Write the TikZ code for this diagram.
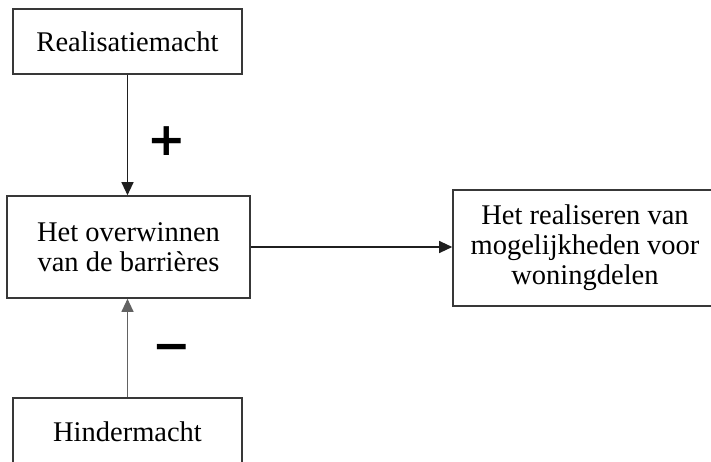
\documentclass[tikz,border=0pt]{standalone}
\usepackage{fontspec}
\setmainfont{Liberation Serif}
\newfontfamily\tekenfont{DejaVu Sans}
\usetikzlibrary{arrows.meta}
\definecolor{randgrijs}{gray}{0.22}
\definecolor{pijlgrijs}{gray}{0.12}
\tikzset{
  blok/.style={draw=randgrijs,line width=1.6pt,align=center,inner sep=0pt,
    font=\fontsize{28.5}{30}\selectfont},
  pijl/.style={-{Triangle[width=12pt,length=13pt]},line width=1.1pt,pijlgrijs},
  teken/.style={inner sep=0pt,font=\tekenfont\bfseries\fontsize{46}{46}\selectfont},
}

\begin{document}
\begin{tikzpicture}[x=1pt,y=-1pt]
  \useasboundingbox (0,0) rectangle (711,461);
  \clip (0,0) rectangle (711,461);
  % blokken
  \node[blok,minimum width=229pt,minimum height=65pt] (realisatie) at (127.5,41.5) {Realisatiemacht};
  \node[blok,minimum width=243pt,minimum height=102pt] (barrieres) at (128.5,247) {Het overwinnen\\van de barrières};
  \node[blok,minimum width=264pt,minimum height=116pt] (doel) at (585,248) {Het realiseren van\\mogelijkheden voor\\woningdelen};
  \node[blok,minimum width=229pt,minimum height=68pt] (hinder) at (127.5,432) {Hindermacht};
  % pijlen
  \draw[pijl] (realisatie.south) -- (realisatie.south |- barrieres.north);
  \draw[pijl,pijlgrijs!70] (hinder.north) -- (hinder.north |- barrieres.south);
  \draw[pijl] (barrieres.east) -- (barrieres.east -| doel.west);
  % tekens
  \node[teken] (plus) at (167,141) {+};
  \node[teken] (min) at (172,353) {−};
\end{tikzpicture}
\end{document}
